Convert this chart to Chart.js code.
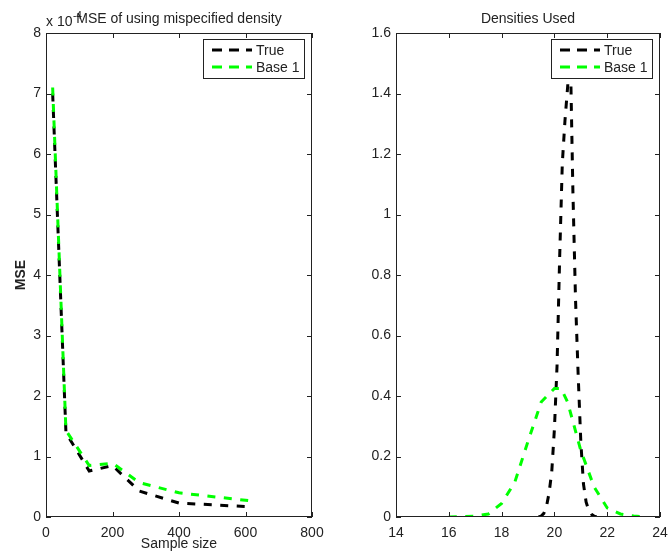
<!DOCTYPE html>
<html>
<head>
<meta charset="UTF-8">
<title>MSE of using mispecified density</title>
<script src="https://cdn.jsdelivr.net/npm/chart.js"></script>
<style>
  body {margin:0; background:#fff; width:669px; height:557px; position:relative; overflow:hidden;}
  canvas {position:absolute; top:0;}
  #left {left:0;}
  #right {left:335px;}
</style>
</head>
<body>
<canvas id="left" width="335" height="557"></canvas>
<canvas id="right" width="334" height="557"></canvas>
<script>
// left panel: MSE (units of 1e-4) against sample size
const sampleSize = [20, 60, 130, 200, 280, 400, 610];
const mseTrue    = [7.0, 1.39, 0.76, 0.85, 0.43, 0.23, 0.17];
const mseBase1   = [7.1, 1.43, 0.85, 0.89, 0.57, 0.40, 0.27];

// right panel: the two densities
const xTrue    = [19.4, 19.5, 19.6, 19.7, 19.8, 19.9, 20.0, 20.1, 20.2, 20.3, 20.4, 20.5,
                  20.6, 20.7, 20.8, 20.9, 21.0, 21.1, 21.2, 21.3, 21.4, 21.5, 21.6];
const densTrue = [0, 0.003, 0.012, 0.035, 0.08, 0.15, 0.29, 0.50, 0.86, 1.17, 1.31, 1.42,
                  1.55, 1.08, 0.72, 0.47, 0.25, 0.11, 0.05, 0.022, 0.009, 0.003, 0];
const xBase1    = [16, 16.5, 17, 17.5, 18, 18.5, 19, 19.5, 20, 20.25, 20.5, 21, 21.5, 22, 22.5, 23, 23.5];
const densBase1 = [0, 0.001, 0.003, 0.01, 0.045, 0.115, 0.25, 0.38, 0.425, 0.425, 0.38, 0.22, 0.10, 0.03, 0.01, 0.003, 0];

const legendNames = ['True', 'Base 1'];
const FAMILY = '"Liberation Sans", Arial, sans-serif';
const FONT = '14px ' + FAMILY;
const TXT = '#222';

function pts(xs, ys) { return xs.map((x, i) => ({x, y: ys[i]})); }

// matlab style box, inward ticks, legend and titles
const matlabFrame = {
  id: 'matlabFrame',
  afterDraw(chart, args, o) {
    const ctx = chart.ctx, a = chart.chartArea;
    const sx = chart.scales.x, sy = chart.scales.y;
    ctx.save();
    ctx.strokeStyle = '#222';
    ctx.lineWidth = 1;
    ctx.setLineDash([]);
    ctx.strokeRect(a.left + 0.5, a.top + 0.5, a.right - a.left - 1, a.bottom - a.top - 1);
    ctx.beginPath();
    sx.ticks.forEach(t => {
      const p = Math.round(sx.getPixelForValue(t.value)) + 0.5;
      ctx.moveTo(p, a.bottom); ctx.lineTo(p, a.bottom - 5);
      ctx.moveTo(p, a.top); ctx.lineTo(p, a.top + 5);
    });
    sy.ticks.forEach(t => {
      const p = Math.round(sy.getPixelForValue(t.value)) + 0.5;
      ctx.moveTo(a.left, p); ctx.lineTo(a.left + 5, p);
      ctx.moveTo(a.right, p); ctx.lineTo(a.right - 5, p);
    });
    ctx.stroke();

    // legend box
    const bw = 101, bh = 39;
    const bx = a.right - 8 - bw, by = a.top + 6;
    ctx.fillStyle = '#fff';
    ctx.fillRect(bx, by, bw, bh);
    ctx.strokeStyle = '#222';
    ctx.strokeRect(bx + 0.5, by + 0.5, bw, bh);
    chart.data.datasets.slice().reverse().forEach((ds, i) => {
      const yy = by + 11 + i * 17;
      ctx.strokeStyle = ds.borderColor;
      ctx.lineWidth = 3;
      ctx.setLineDash([10, 7]);
      ctx.beginPath();
      ctx.moveTo(bx + 9, yy); ctx.lineTo(bx + 49, yy);
      ctx.stroke();
      ctx.setLineDash([]);
      ctx.fillStyle = TXT;
      ctx.font = FONT;
      ctx.textAlign = 'left';
      ctx.textBaseline = 'middle';
      ctx.fillText(ds.label, bx + 53, yy + 1);
    });

    // titles and labels
    const cx = (a.left + a.right) / 2;
    ctx.fillStyle = TXT;
    ctx.font = FONT;
    ctx.textBaseline = 'alphabetic';
    if (o.exponent) {
      ctx.textAlign = 'left';
      ctx.fillText('x 10', a.left, 26);
      ctx.font = '10px ' + FAMILY;
      ctx.fillText('-4', a.left + 27, 19);
      ctx.font = FONT;
    }
    ctx.textAlign = 'center';
    ctx.fillText(o.title, cx, 23);
    if (o.xLabel) ctx.fillText(o.xLabel, cx, 548);
    if (o.yLabel) {
      ctx.save();
      ctx.translate(25, (a.top + a.bottom) / 2);
      ctx.rotate(-Math.PI / 2);
      ctx.font = 'bold ' + FONT;
      ctx.fillText(o.yLabel, 0, 0);
      ctx.restore();
    }
    ctx.restore();
  }
};

function makeChart(id, datasets, xr, yr, yWidth, padRight, frameOpts) {
  const tickFont = { family: FAMILY, size: 14 };
  return new Chart(document.getElementById(id), {
    type: 'line',
    data: { datasets },
    options: {
      responsive: false,
      animation: false,
      layout: { padding: { top: 33, right: padRight, left: 0, bottom: 0 } },
      elements: { point: { radius: 0 }, line: { tension: 0, borderWidth: 3 } },
      scales: {
        x: {
          type: 'linear', min: xr[0], max: xr[1],
          grid: { display: false }, border: { display: false },
          ticks: { stepSize: xr[2], padding: 0, color: TXT, font: tickFont, maxRotation: 0 },
          afterFit: s => { s.height = 40; }
        },
        y: {
          min: yr[0], max: yr[1],
          grid: { display: false, drawTicks: false }, border: { display: false },
          ticks: { stepSize: yr[2], padding: 5, color: TXT, font: tickFont,
                   callback: v => String(+v.toFixed(1)) },
          afterFit: s => { s.width = yWidth; }
        }
      },
      plugins: { legend: { display: false }, tooltip: { enabled: false }, matlabFrame: frameOpts }
    },
    plugins: [matlabFrame]
  });
}

// green drawn on top: dataset 0 is painted last
makeChart('left', [
  { label: legendNames[1], data: pts(sampleSize, mseBase1), borderColor: '#00ff00', borderDash: [8, 8.5] },
  { label: legendNames[0], data: pts(sampleSize, mseTrue),  borderColor: '#000000', borderDash: [8, 8.5] }
], [0, 800, 200], [0, 8, 1], 46, 23,
  { title: 'MSE of using mispecified density', xLabel: 'Sample size', yLabel: 'MSE', exponent: true });

makeChart('right', [
  { label: legendNames[1], data: pts(xBase1, densBase1), borderColor: '#00ff00', borderDash: [8, 8.5] },
  { label: legendNames[0], data: pts(xTrue, densTrue),   borderColor: '#000000', borderDash: [8, 8.5] }
], [14, 24, 2], [0, 1.6, 0.2], 61, 9,
  { title: 'Densities Used' });
</script>
</body>
</html>
